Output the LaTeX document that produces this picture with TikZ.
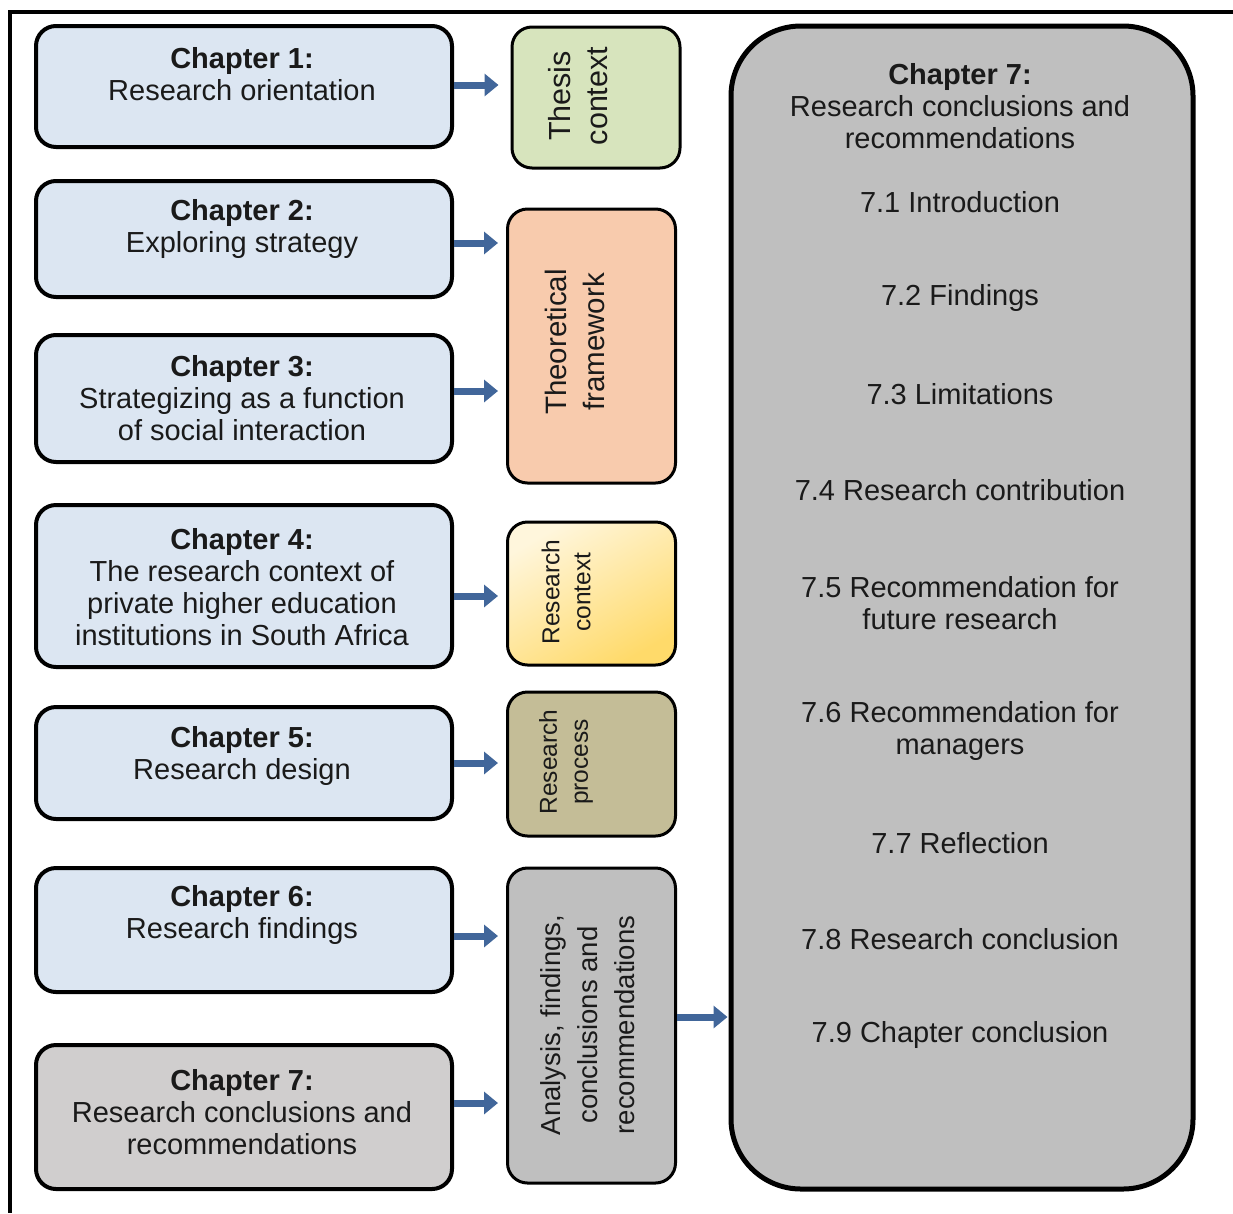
\documentclass[tikz,border=0pt]{standalone}
\usepackage{fontspec}
\setmainfont{Liberation Sans}
\usetikzlibrary{arrows.meta}
\definecolor{chblue}{HTML}{DCE6F2}
\definecolor{chgray}{HTML}{D0CECE}
\definecolor{thgreen}{HTML}{D7E4BD}
\definecolor{thorange}{HTML}{F8CBAD}
\definecolor{rcpale}{HTML}{FFF6DC}
\definecolor{rcgold}{HTML}{FFDA6A}
\definecolor{rpkhaki}{HTML}{C4BD97}
\definecolor{midgray}{HTML}{BFBFBF}
\definecolor{arrblue}{HTML}{41669A}
\definecolor{txt}{HTML}{1A1A1A}
\tikzset{
  chbox/.style={draw=black, line width=4pt, rounded corners=20pt, fill=chblue,
    minimum width=416pt, inner sep=0pt},
  midbox/.style={draw=black, line width=3pt, rounded corners=20pt,
    minimum width=168pt, inner sep=0pt},
  lbl/.style={align=center, text=txt, inner sep=0pt,
    font=\fontsize{29}{32}\selectfont},
  rlbl/.style={align=center, text=txt, inner sep=0pt, rotate=90},
  arr/.style={draw=arrblue, line width=7pt,
    -{Triangle[length=14pt,width=22pt]}, shorten >=8pt},
}
\begin{document}
\begin{tikzpicture}[x=1pt,y=-1pt]
\useasboundingbox (0,0) rectangle (1233,1213);
% page frame (top and left edges)
\draw[line width=4pt] (1233,12) -- (10,12) -- (10,1213);

% chapter boxes
\node[chbox, minimum height=121pt] (ch1) at (244,86.5) {};
\node[chbox, minimum height=116pt] (ch2) at (244,239) {};
\node[chbox, minimum height=127pt] (ch3) at (244,398.5) {};
\node[chbox, minimum height=162pt] (ch4) at (244,586) {};
\node[chbox, minimum height=112pt] (ch5) at (244,763) {};
\node[chbox, minimum height=124pt] (ch6) at (244,930) {};
\node[chbox, minimum height=144pt, fill=chgray] (ch7) at (244,1117) {};

\node[lbl] (t1) at (242,74) {\textbf{Chapter 1:}\\Research orientation};
\node[lbl] (t2) at (242,229) {\textbf{Chapter 2:}\\Exploring strategy};
\node[lbl] (t3) at (242,398) {\textbf{Chapter 3:}\\Strategizing as a function\\of social interaction};
\node[lbl] (t4) at (242,587) {\textbf{Chapter 4:}\\The research context of\\private higher education\\institutions in South Africa};
\node[lbl] (t5) at (242,756) {\textbf{Chapter 5:}\\Research design};
\node[lbl] (t6) at (242,915) {\textbf{Chapter 6:}\\Research findings};
\node[lbl] (t7) at (242,1112) {\textbf{Chapter 7:}\\Research conclusions and\\recommendations};

% theme boxes
\node[midbox, fill=thgreen, minimum height=141pt] (thesis) at (596,97.5) {};
\node[midbox, fill=thorange, minimum height=274pt] (theo) at (591.5,346) {};
\node[midbox, top color=rcpale, bottom color=rcgold, shading angle=30,
  minimum height=143pt] (rctx) at (591.5,593.5) {};
\node[midbox, fill=rpkhaki, minimum height=144pt] (rproc) at (591.5,764) {};
\node[midbox, fill=midgray, minimum height=315pt] (anal) at (591.5,1025.5) {};

\node[rlbl, font=\fontsize{30.5}{37}\selectfont] at (578,96) {Thesis\\context};
\node[rlbl, font=\fontsize{29.5}{38}\selectfont] at (575,342) {Theoretical\\framework};
\node[rlbl, font=\fontsize{24.5}{31}\selectfont] at (566,592) {Research\\context};
\node[rlbl, font=\fontsize{24.5}{31}\selectfont] at (566,762) {Research\\process};
\node[rlbl, font=\fontsize{27.5}{37}\selectfont] at (588,1025) {Analysis, findings,\\conclusions and\\recommendations};

% chapter 7 outline
\node[draw=black, line width=5pt, rounded corners=70pt, fill=midgray,
  minimum width=462pt, minimum height=1163pt, inner sep=0pt] (c7) at (962,607.5) {};
\node[lbl] at (960,106) {\textbf{Chapter 7:}\\Research conclusions and\\recommendations};
\node[lbl] at (960,202) {7.1 Introduction};
\node[lbl] at (960,298) {7.2 Findings};
\node[lbl] at (960,394) {7.3 Limitations};
\node[lbl] at (960,490) {7.4 Research contribution};
\node[lbl] at (960,603) {7.5 Recommendation for\\future research};
\node[lbl] at (960,731) {7.6 Recommendation for\\managers};
\node[lbl] at (960,843) {7.7 Reflection};
\node[lbl] at (960,939) {7.8 Research conclusion};
\node[lbl] at (960,1035) {7.9 Chapter conclusion};

% connectors
\draw[arr, shorten >=12pt] (ch1.east |- 0,85) -- (thesis.west |- 0,85);
\draw[arr] (ch2.east |- 0,243) -- (theo.west |- 0,243);
\draw[arr] (ch3.east |- 0,391) -- (theo.west |- 0,391);
\draw[arr] (ch4.east |- 0,596) -- (rctx.west |- 0,596);
\draw[arr] (ch5.east |- 0,763) -- (rproc.west |- 0,763);
\draw[arr] (ch6.east |- 0,936) -- (anal.west |- 0,936);
\draw[arr] (ch7.east |- 0,1103) -- (anal.west |- 0,1103);
\draw[arr, shorten >=1pt] (anal.east |- 0,1017) -- (c7.west |- 0,1017);
\end{tikzpicture}
\end{document}
